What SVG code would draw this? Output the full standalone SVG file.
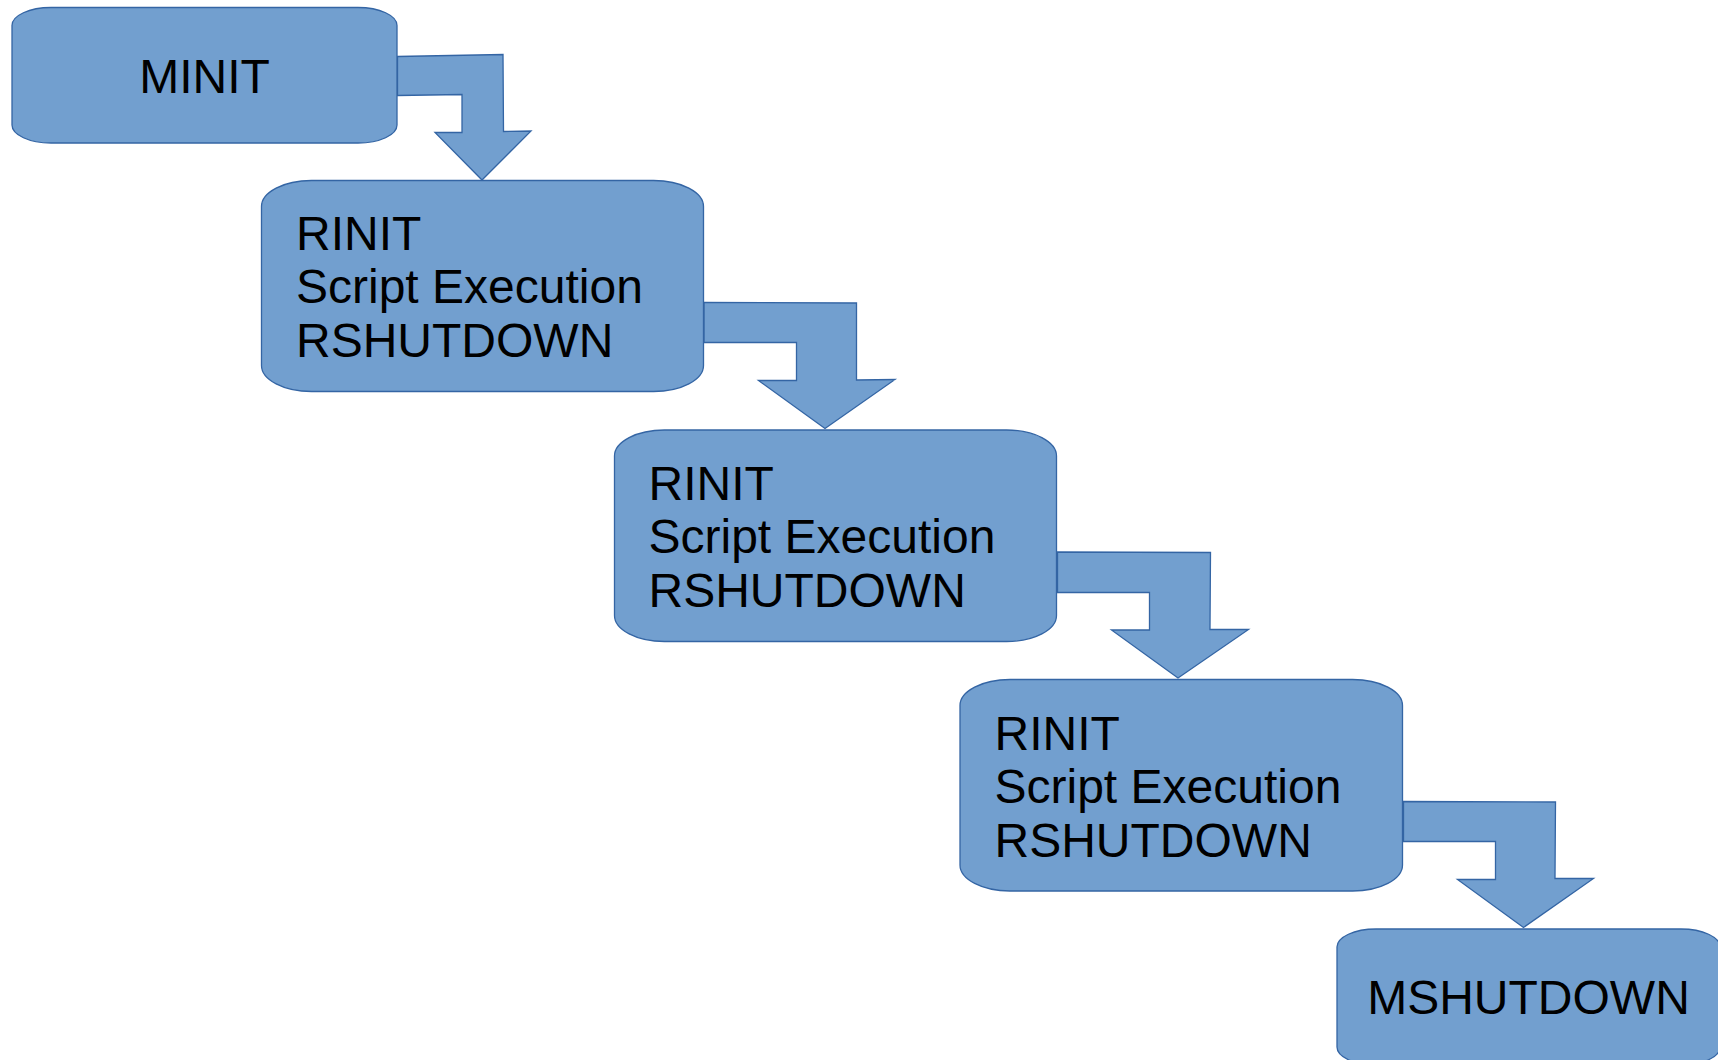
<svg xmlns="http://www.w3.org/2000/svg" width="1718" height="1060" viewBox="0 0 1718 1060">
  <style>
    .box { fill: #729fcf; stroke: #3465a4; stroke-width: 1.3; }
    .flow { fill: #729fcf; stroke: #3465a4; stroke-width: 1.3; stroke-linejoin: miter; }
    .label { font-family: "Liberation Sans", Arial, sans-serif; font-size: 48px; fill: #000000; }
  </style>
  <rect width="1718" height="1060" fill="#ffffff"/>

  <!-- Connectors: bent block arrows from each box to the next -->
  <g id="connectors">
    <polygon class="flow" points="397.5,56.5 503,54.5 503.5,131.5 531,131 482,180 435,132.5 462,132.5 462,94.5 397.5,95.5"/>
    <polygon class="flow" points="704,302.5 856.5,303 856.5,380 895,379.5 825,428.5 758.5,380.5 796.5,380.5 796.5,342.5 704,342.5"/>
    <polygon class="flow" points="1057.5,552 1210.5,552.5 1210,629.5 1248.5,629.5 1178,678 1111.5,630 1149.5,630 1149.5,592.5 1057.5,592.5"/>
    <polygon class="flow" points="1403.5,801.5 1555.5,802 1555,878.5 1593.5,878.5 1523.5,927.5 1457.5,879.5 1495.5,879.5 1495.5,841.5 1403.5,841.5"/>
  </g>

  <g id="minit">
    <rect class="box" x="12" y="7.5" width="385" height="135.5" rx="39" ry="18"/>
    <text class="label" x="204.5" y="93" text-anchor="middle">MINIT</text>
  </g>

  <g id="request1">
    <rect class="box" x="261.5" y="180.5" width="442" height="211" rx="50" ry="26"/>
    <text class="label" x="296" y="249.5">RINIT</text>
    <text class="label" x="296" y="303">Script Execution</text>
    <text class="label" x="296" y="357">RSHUTDOWN</text>
  </g>

  <g id="request2">
    <rect class="box" x="614.5" y="430" width="442" height="211.5" rx="50" ry="26"/>
    <text class="label" x="648.5" y="499.5">RINIT</text>
    <text class="label" x="648.5" y="553">Script Execution</text>
    <text class="label" x="648.5" y="607">RSHUTDOWN</text>
  </g>

  <g id="request3">
    <rect class="box" x="960" y="679.5" width="442.5" height="211.5" rx="50" ry="26"/>
    <text class="label" x="994.5" y="749.5">RINIT</text>
    <text class="label" x="994.5" y="803">Script Execution</text>
    <text class="label" x="994.5" y="857">RSHUTDOWN</text>
  </g>

  <g id="mshutdown">
    <rect class="box" x="1337" y="929" width="383" height="136" rx="39" ry="18"/>
    <text class="label" x="1528.5" y="1014" text-anchor="middle">MSHUTDOWN</text>
  </g>
</svg>
